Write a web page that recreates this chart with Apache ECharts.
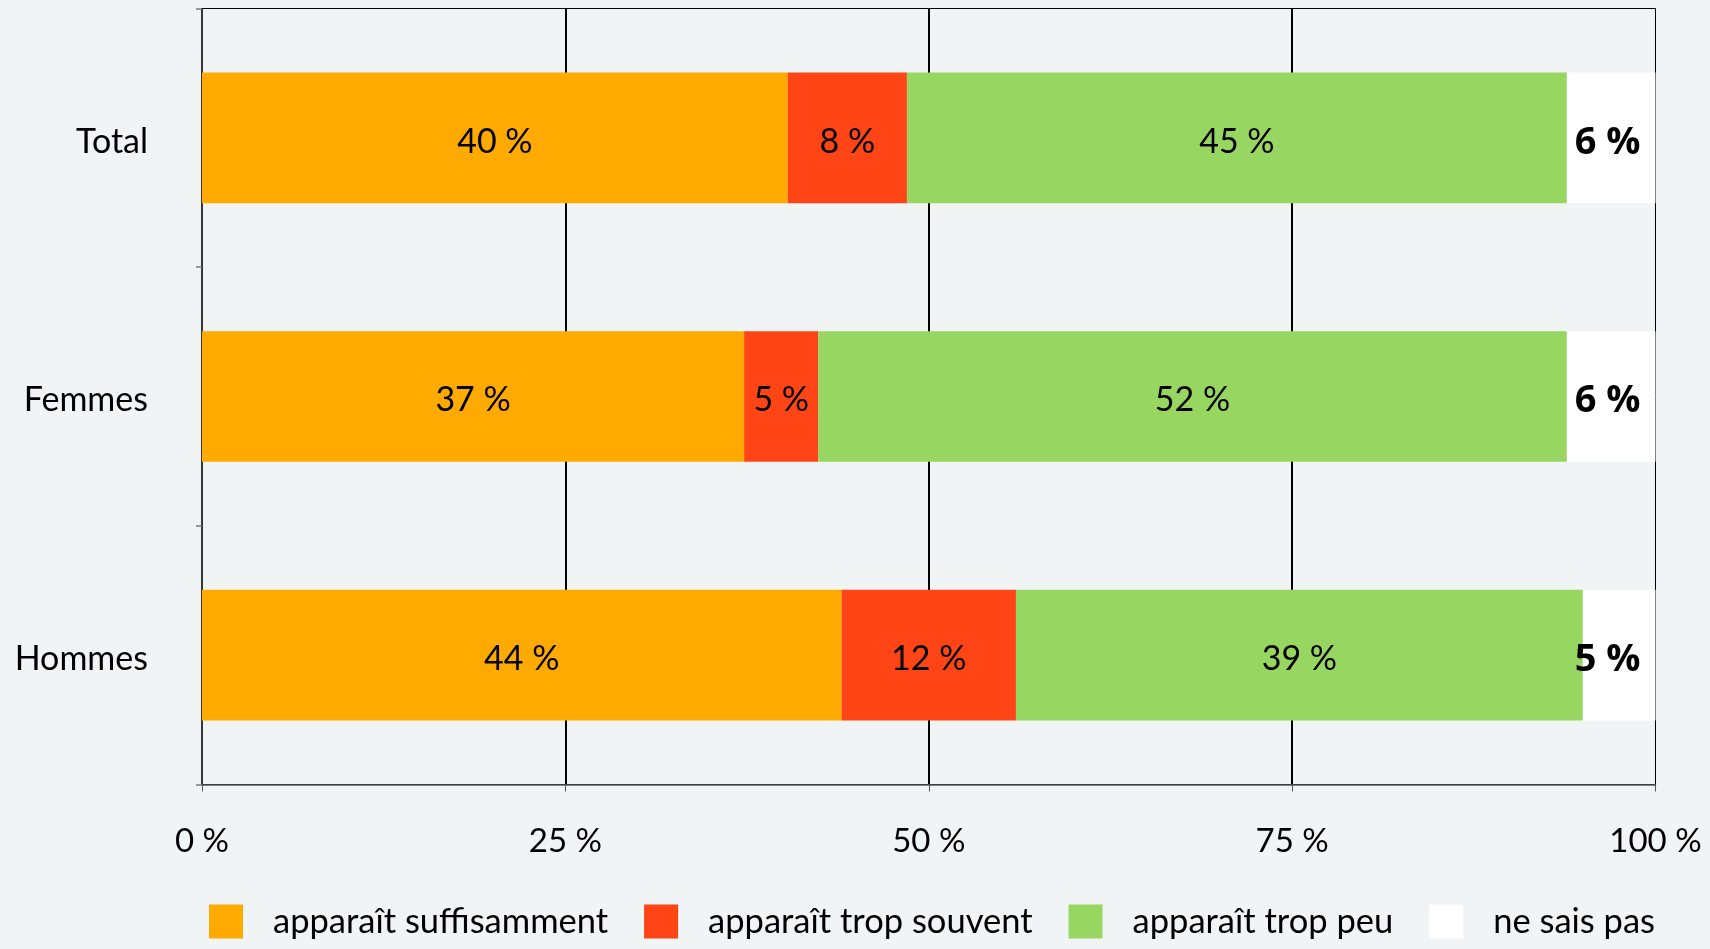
<!DOCTYPE html>
<html>
<head>
<meta charset="utf-8">
<script src="https://cdn.jsdelivr.net/npm/echarts@6/dist/echarts.min.js"></script>
<style>
html,body{margin:0;padding:0;background:#F0F4F5;}
#c{width:1710px;height:949px;}
</style>
</head>
<body>
<div id="c"></div>
<script>
const categories = ['Total', 'Femmes', 'Hommes'];
const seriesNames = ['apparaît suffisamment', 'apparaît trop souvent', 'apparaît trop peu', 'ne sais pas'];
const suffisamment = [40.3, 37.3, 44.0];
const tropSouvent = [8.2, 5.1, 12.0];
const tropPeu = [45.4, 51.5, 39.0];
const neSaisPas = [6.1, 6.1, 5.0];
const xTicks = [0, 25, 50, 75, 100];

const colors = ['#FFAA00', '#FF4415', '#98D662', '#FFFFFF'];
const FONT = 'Lato';
const values = [suffisamment, tropSouvent, tropPeu, neSaisPas];

const series = values.map((v, i) => ({
  name: seriesNames[i],
  type: 'bar',
  stack: 'all',
  barWidth: '50.5%',
  data: v,
  itemStyle: { color: colors[i] },
  label: i < 3 ? {
    show: true,
    position: 'inside',
    offset: [0, 4],
    color: '#000',
    fontFamily: FONT,
    fontSize: 34,
    formatter: p => Math.round(p.value) + ' %'
  } : {
    show: true,
    position: 'insideRight',
    distance: 15,
    offset: [0, 5],
    color: '#000',
    fontFamily: 'Open Sans',
    fontWeight: 'bold',
    fontSize: 38,
    formatter: p => Math.round(p.value) + ' %'
  },
  emphasis: { disabled: true }
}));

const chart = echarts.init(document.getElementById('c'), null, { renderer: 'canvas' });
chart.setOption({
  backgroundColor: '#F0F4F5',
  animation: false,
  grid: {
    left: 202, right: 54.5, top: 8.5, bottom: 164.5,
    show: true, borderColor: '#000', borderWidth: 1, backgroundColor: 'transparent'
  },
  legend: {
    left: 209,
    top: 904,
    padding: 0,
    itemWidth: 34,
    itemHeight: 34,
    itemGap: 36,
    icon: 'rect',
    data: seriesNames,
    textStyle: { fontFamily: FONT, fontSize: 34.5, color: '#000', padding: [0, 0, 0, 25] }
  },
  xAxis: {
    type: 'value',
    min: xTicks[0],
    max: xTicks[xTicks.length - 1],
    interval: 25,
    axisLine: { show: true, lineStyle: { color: '#555', width: 1.5 } },
    axisTick: { show: true, length: 7, lineStyle: { color: '#555' } },
    axisLabel: {
      margin: 40,
      fontFamily: FONT, fontSize: 33, color: '#000',
      formatter: v => v + ' %'
    },
    splitLine: { show: true, showMinLine: false, showMaxLine: false, lineStyle: { color: '#000', width: 2 } }
  },
  yAxis: {
    type: 'category',
    inverse: true,
    data: categories,
    axisLine: { show: true, lineStyle: { color: '#222', width: 1.5 } },
    axisTick: { show: true, length: 6, lineStyle: { color: '#777', width: 1.5 } },
    axisLabel: {
      margin: 54,
      formatter: v => '{c|' + v + '}',
      rich: { c: { fontFamily: FONT, fontSize: 34, color: '#000', padding: [8, 0, 0, 0] } }
    }
  },
  series: series
});
</script>
</body>
</html>
